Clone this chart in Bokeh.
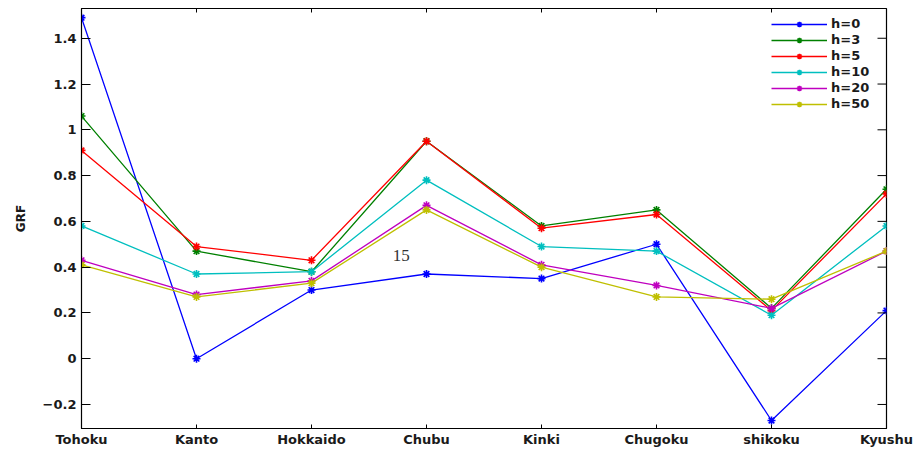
import math
from bokeh.plotting import figure
from bokeh.models import FixedTicker, Legend, LegendItem, Range1d, Label
from bokeh.embed import file_html
from bokeh.resources import INLINE

categories = ["Tohoku", "Kanto", "Hokkaido", "Chubu", "Kinki", "Chugoku", "shikoku", "Kyushu"]
h0 = [1.49, 0.00, 0.30, 0.37, 0.35, 0.50, -0.27, 0.21]
h3 = [1.06, 0.47, 0.38, 0.95, 0.58, 0.65, 0.22, 0.74]
h5 = [0.91, 0.49, 0.43, 0.95, 0.57, 0.63, 0.21, 0.72]
h10 = [0.58, 0.37, 0.38, 0.78, 0.49, 0.47, 0.19, 0.58]
h20 = [0.43, 0.28, 0.34, 0.67, 0.41, 0.32, 0.22, 0.47]
h50 = [0.41, 0.27, 0.33, 0.65, 0.40, 0.27, 0.26, 0.47]
series = [("h=0", h0), ("h=3", h3), ("h=5", h5), ("h=10", h10), ("h=20", h20), ("h=50", h50)]
colors = ["#0000ff", "#008000", "#ff0000", "#00bfbf", "#bf00bf", "#bfbf00"]
y_ticks = [-0.2, 0, 0.2, 0.4, 0.6, 0.8, 1.0, 1.2, 1.4]
y_tick_labels = ["\u22120.2", "0", "0.2", "0.4", "0.6", "0.8", "1", "1.2", "1.4"]
y_label = "GRF"
y_min, y_max = -0.305, 1.53
note_text = "15"
note_pos = (2.78, 0.453)

x = list(range(len(categories)))
x_min, x_max = 0, len(categories) - 1

FONT = "DejaVu Sans"
TXT = "#1a1a1a"

p = figure(width=916, height=449, output_backend="svg", toolbar_location=None,
           x_range=Range1d(x_min, x_max), y_range=Range1d(y_min, y_max),
           min_border_left=81, min_border_right=30, min_border_top=8, min_border_bottom=20,
           background_fill_color="white", border_fill_color="white")
p.xgrid.visible = False
p.ygrid.visible = False
p.outline_line_color = "black"
p.outline_line_width = 1.2

items = []
for (name, vals), c in zip(series, colors):
    r1 = p.line(x, vals, line_color=c, line_width=1.3)
    r2 = p.scatter(x, vals, marker="asterisk", size=8, line_color=c, line_width=1.6)
    items.append(LegendItem(label=name, renderers=[r1, r2]))

# mirrored tick marks on the top and right edges of the box
p.ray(x=x, y=[y_max] * len(x), length=4, length_units="screen", angle=-math.pi / 2,
      line_color="black", line_width=1)
p.ray(x=[x_max] * len(y_ticks), y=y_ticks, length=9, length_units="screen", angle=math.pi,
      line_color="black", line_width=1)

xa = p.xaxis[0]
xa.ticker = FixedTicker(ticks=x)
xa.major_label_overrides = {i: c for i, c in enumerate(categories)}
xa.major_tick_in = 4
xa.major_tick_out = 0
xa.minor_tick_line_color = None
xa.major_label_standoff = 3
xa.major_label_text_font = FONT
xa.major_label_text_font_style = "bold"
xa.major_label_text_font_size = "13px"
xa.major_label_text_color = TXT
xa.axis_line_color = "black"

ya = p.yaxis[0]
ya.ticker = FixedTicker(ticks=y_ticks)
ya.major_label_overrides = {t: l for t, l in zip(y_ticks, y_tick_labels)}
ya.major_tick_in = 9
ya.major_tick_out = 0
ya.minor_tick_line_color = None
ya.major_label_standoff = 5
ya.major_label_text_font = FONT
ya.major_label_text_font_style = "bold"
ya.major_label_text_font_size = "13px"
ya.major_label_text_color = TXT
ya.axis_label = y_label
ya.axis_label_text_font = FONT
ya.axis_label_text_font_style = "bold"
ya.axis_label_text_font_size = "12px"
ya.axis_label_text_color = TXT
ya.axis_label_standoff = 12
ya.axis_line_color = "black"

note = Label(x=note_pos[0], y=note_pos[1], text=note_text, text_font="Liberation Serif",
             text_font_size="17px", text_color="#333333", text_align="center",
             text_baseline="middle")
p.add_layout(note)

legend = Legend(items=items, location="top_right", margin=8, padding=7,
                glyph_width=56, glyph_height=14, label_standoff=4, label_width=47,
                label_height=14, spacing=1,
                label_text_font=FONT, label_text_font_style="bold",
                label_text_font_size="13px", label_text_color=TXT,
                border_line_color=None, background_fill_alpha=0)
p.add_layout(legend)

open("out.html", "w").write(file_html(p, INLINE))
